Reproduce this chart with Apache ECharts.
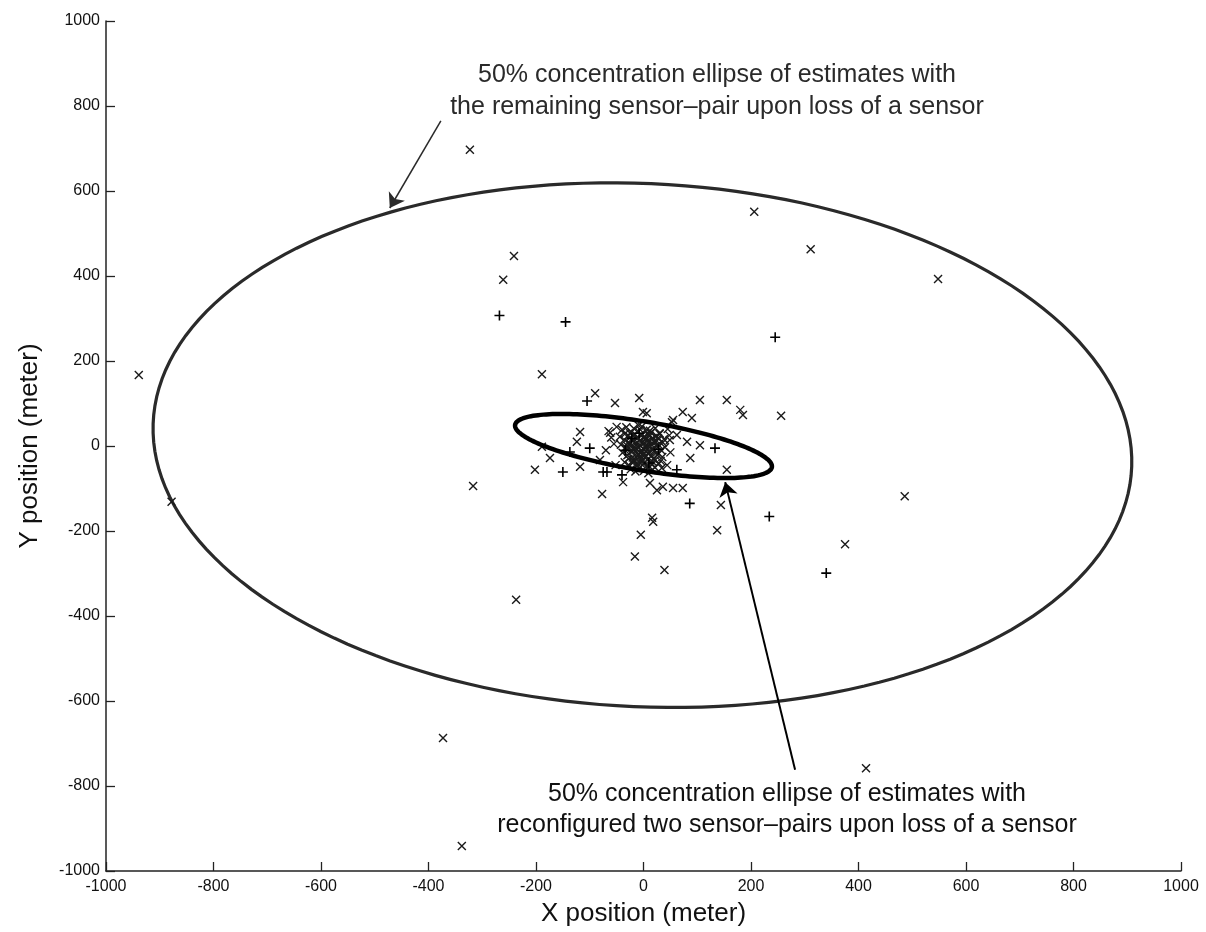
<!DOCTYPE html>
<html>
<head>
<meta charset="utf-8">
<script src="https://cdn.jsdelivr.net/npm/echarts@6/dist/echarts.min.js"></script>
<style>
html,body{margin:0;padding:0;background:#fff;}
#chart{width:1206px;height:932px;}
</style>
</head>
<body>
<div id="chart"></div>
<script>
// ---------- data ----------
const xTicks = [-1000, -800, -600, -400, -200, 0, 200, 400, 600, 800, 1000];
const yTicks = [-1000, -800, -600, -400, -200, 0, 200, 400, 600, 800, 1000];

// 'x' shaped estimates (x, y in meters)
const crossX = [
  -323, 206, 311, 548, -241, -261, -939, -878, -189, -317, -237, 486, 375, 137, 144, 18, -5, -16, 39, -77,
  -373, -338, 414, 256, -90, -53, -8, 6, 105, 155, 180, 185, 73, 90, 55, -118, -124, -81, -174, -202,
  -118, -38, 12, 25, 36, 55, 73, 34, 87, 105, 49, 81, 62, 155, 16, -62, -1, 53, -189,
  -40, -32, -25, -18, -10, -3, 6, 14, 22, 30,
  -44, -36, -28, -20, -12, -5, 3, 11, 19, 27, 36,
  -42, -34, -26, -17, -9, -1, 7, 15, 24, 33, 40,
  -39, -30, -22, -14, -6, 2, 10, 18, 26, 35,
  -35, -27, -19, -11, -3, 5, 13, 21, 29,
  -24, -15, -7, 1, 9, 17,
  -2, 4, -8, 12, -16, 20, -20, 8, -30, 30, 0, -12, 16, -5, 25, -28, 6, -9, 38,
  -60, -55, -70, -50, -65, 45, 50, 48, -52, 44,
  -25, -18, -11, -4, 3, 10, 17, 24,
  -28, -21, -14, -7, 0, 7, 14, 21, 28,
  -31, -24, -17, -10, -3, 4, 11, 18, 25,
  -27, -20, -13, -6, 1, 8, 15, 22,
  -19, -12, -5, 2, 9, 16,
  -23, -6, 12, -35, 32
];
const crossY = [
  697, 551, 463, 393, 447, 391, 167, -131, 169, -94, -362, -118, -231, -198, -139, -178, -209, -260, -292, -113,
  -687, -941, -758, 71, 124, 101, 113, 77, 108, 108, 85, 73, 80, 66, 61, 33, 10, -33, -28, -56,
  -49, -85, -87, -104, -96, -99, -99, -52, -28, 2, 14, 10, 26, -56, -169, 31, 80, 56, -2,
  38, 44, 30, 41, 35, 46, 38, 31, 42, 28,
  22, 15, 24, 12, 20, 27, 16, 23, 10, 18, 8,
  3, -4, 6, -2, 5, -6, 2, -8, 0, -10, -3,
  -16, -22, -12, -25, -15, -27, -18, -30, -21, -26,
  -38, -45, -33, -42, -36, -48, -39, -50, -41,
  -55, -60, -52, -58, -64, -56,
  9, -12, -20, 12, 28, -12, -40, 30, 0, 30, 20, -8, -44, -30, 12, -30, -3, 48, 16,
  20, 5, -10, 45, 35, 40, -15, 25, -45, -45,
  20, 25, 18, 24, 21, 26, 19, 24,
  9, 14, 7, 13, 6, 11, 4, 9, 3,
  -6, -1, -9, -3, -11, -5, -13, -7, -15,
  -19, -27, -17, -24, -19, -31, -23, -33,
  -37, -46, -41, -39, -50, -36,
  33, 38, 36, 28, -35
];

// '+' shaped estimates
const plusX = [-268, -145, 245, 340, 234, 86, -105, -137, -100, -150, -68, -40, 62, 133, -75, -22, 10, 28, -8, -34];
const plusY = [307, 292, 256, -299, -166, -135, 106, -14, -5, -61, -61, -68, -56, -5, -61, 18, -40, -8, 30, -10];

// 50% concentration ellipses: centre x, centre y, semi-major, semi-minor, tilt (deg)
const ellipseLarge = [-2, 2, 912, 615, -4.5];
const ellipseSmall = [0, 0, 244, 57, -12];

// annotation arrows: [tail], [tip]
const arrowLargeTail = [-377, 765];
const arrowLargeTip = [-472, 560];
const arrowSmallTail = [282, -762];
const arrowSmallTip = [152, -85];

const noteTop = ['50% concentration ellipse of estimates with', 'the remaining sensor\u2013pair upon loss of a sensor'];
const noteBottom = ['50% concentration ellipse of estimates with', 'reconfigured two sensor\u2013pairs upon loss of a sensor'];

// ---------- chart ----------
const FONT = 'Liberation Sans, Arial, Helvetica, sans-serif';
const chart = echarts.init(document.getElementById('chart'), null, {renderer: 'canvas'});

function zipXY(xs, ys) { return xs.map((v, i) => [v, ys[i]]); }

function ellipseRenderer(width, color) {
  return function (params, api) {
    const cx = api.value(0), cy = api.value(1), a = api.value(2), b = api.value(3);
    const ang = api.value(4) * Math.PI / 180;
    const pts = [];
    const N = 180;
    for (let i = 0; i <= N; i++) {
      const t = 2 * Math.PI * i / N;
      const ex = a * Math.cos(t), ey = b * Math.sin(t);
      pts.push(api.coord([cx + ex * Math.cos(ang) - ey * Math.sin(ang),
                          cy + ex * Math.sin(ang) + ey * Math.cos(ang)]));
    }
    return {type: 'polygon', shape: {points: pts}, style: {fill: 'none', stroke: color, lineWidth: width}};
  };
}

const axisCommon = {
  type: 'value', min: -1000, max: 1000, interval: 200,
  axisLine: {show: true, onZero: false, lineStyle: {color: '#222', width: 1.5}},
  axisTick: {show: true, inside: true, length: 9, lineStyle: {color: '#222', width: 1.3}},
  splitLine: {show: false},
  nameLocation: 'middle',
  nameTextStyle: {fontSize: 26, color: '#111', fontFamily: FONT}
};

const option = {
  backgroundColor: '#fff',
  animation: false,
  grid: {left: 106, right: 25, top: 21, bottom: 61, containLabel: false},
  xAxis: Object.assign({}, axisCommon, {
    name: 'X position (meter)', nameGap: 30,
    axisLabel: {fontSize: 16, color: '#111', fontFamily: FONT, margin: 8,
      customValues: xTicks, formatter: v => String(v)}
  }),
  yAxis: Object.assign({}, axisCommon, {
    name: 'Y position (meter)', nameGap: 63,
    axisLabel: {fontSize: 16, color: '#111', fontFamily: FONT, margin: 6,
      customValues: yTicks, formatter: v => String(v)}
  }),
  graphic: [
    {type: 'text', z: 100, style: {text: noteTop.join('\n'), x: 717, y: 91, align: 'center', verticalAlign: 'middle',
      fontSize: 25, fontFamily: FONT, lineHeight: 32, fill: '#2a2a2a'}},
    {type: 'text', z: 100, style: {text: noteBottom.join('\n'), x: 787, y: 810, align: 'center', verticalAlign: 'middle',
      fontSize: 25, fontFamily: FONT, lineHeight: 31, fill: '#111'}}
  ],
  series: [
    {
      name: 'large ellipse', type: 'custom', coordinateSystem: 'cartesian2d',
      renderItem: ellipseRenderer(3.2, '#2a2a2a'),
      encode: {x: 0, y: 1}, data: [ellipseLarge], clip: false, silent: true, z: 2
    },
    {
      name: 'x estimates', type: 'scatter',
      symbol: 'path://M0,0L10,10M10,0L0,10', symbolSize: 8,
      itemStyle: {color: 'rgba(0,0,0,0)', borderColor: '#1a1a1a', borderWidth: 1.4, opacity: 1},
      data: zipXY(crossX, crossY), z: 3
    },
    {
      name: '+ estimates', type: 'scatter',
      symbol: 'path://M5,0L5,10M0,5L10,5', symbolSize: 10,
      itemStyle: {color: 'rgba(0,0,0,0)', borderColor: '#000', borderWidth: 1.6, opacity: 1},
      data: zipXY(plusX, plusY), z: 3
    },
    {
      name: 'small ellipse', type: 'custom', coordinateSystem: 'cartesian2d',
      renderItem: ellipseRenderer(4.5, '#000'),
      encode: {x: 0, y: 1}, data: [ellipseSmall], clip: false, silent: true, z: 4
    },
    {
      name: 'arrows', type: 'lines', coordinateSystem: 'cartesian2d',
      symbol: ['none', 'arrow'], symbolSize: 14,
      data: [
        {coords: [arrowLargeTail, arrowLargeTip], lineStyle: {color: '#2a2a2a', width: 1.5, opacity: 1}},
        {coords: [arrowSmallTail, arrowSmallTip], lineStyle: {color: '#000', width: 2, opacity: 1}}
      ],
      lineStyle: {color: '#111', width: 1.8, opacity: 1}, silent: true, z: 5
    }
  ]
};
chart.setOption(option);
</script>
</body>
</html>
